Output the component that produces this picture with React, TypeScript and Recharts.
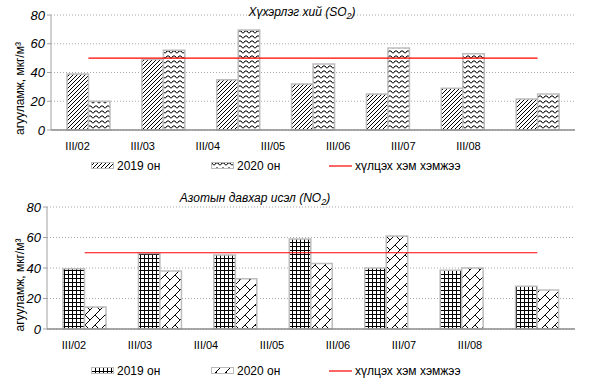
import React from 'react';
import { ComposedChart, Bar, Line, XAxis, YAxis, CartesianGrid, Legend } from 'recharts';

const categories = ['III/02', 'III/03', 'III/04', 'III/05', 'III/06', 'III/07', 'III/08'];
const so2_2019 = [39, 49, 35, 32, 25, 29, 21.5];
const so2_2020 = [20, 55.5, 69.5, 46, 57, 53, 25];
const no2_2019 = [39.5, 49.5, 48.5, 59, 40, 38.5, 28];
const no2_2020 = [14.5, 38, 33, 43, 61, 40, 25.5];
const limit = [50, 50, 50, 50, 50, 50, 50];
const yTicks = [0, 20, 40, 60, 80];
const seriesNames = ['2019 он', '2020 он', 'хүлцэх хэм хэмжээ'];
const titleSO2 = 'Хүхэрлэг хий (SO';
const titleNO2 = 'Азотын давхар исэл (NO';
const yLabel = 'агууламж, мкг/м³';

const so2Data = categories.map((c, i) => ({ cat: c, a: so2_2019[i], b: so2_2020[i], l: limit[i] }));
const no2Data = categories.map((c, i) => ({ cat: c, a: no2_2019[i], b: no2_2020[i], l: limit[i] }));

const FONT = '"Liberation Sans", Arial, sans-serif';

const Patterns = () => (
  <svg width={0} height={0} style={{ position: 'absolute' }}>
    <defs>
      <pattern id="pDiag" patternUnits="userSpaceOnUse" width={4} height={4}>
        <rect width={4} height={4} fill="#fff" />
        <path d="M-1,1 L1,-1 M0,4 L4,0 M3,5 L5,3" stroke="#000" strokeWidth={1} />
      </pattern>
      <pattern id="pWave" patternUnits="userSpaceOnUse" width={6} height={5}>
        <rect width={6} height={5} fill="#fff" />
        <path d="M0,1 L1,1 L2.5,3 L3.5,3 L5,1 L6,1" stroke="#000" strokeWidth={1} fill="none" />
      </pattern>
      <pattern id="pGrid" patternUnits="userSpaceOnUse" width={4} height={4}>
        <rect width={4} height={4} fill="#fff" />
        <rect x={0} y={0} width={4} height={1} fill="#000" />
        <rect x={0} y={0} width={1} height={4} fill="#000" />
      </pattern>
      <pattern id="pBrick" patternUnits="userSpaceOnUse" width={10} height={10}>
        <rect width={10} height={10} fill="#fff" />
        <path d="M0,10 L10,0 M-1,1 L1,-1 M9,11 L11,9 M5,5 L10,10" stroke="#000" strokeWidth={1} fill="none" />
      </pattern>
    </defs>
  </svg>
);

const makeLegend = (fillA: string, fillB: string) => (props: any) => {
  const payload = props.payload || [];
  const xs = [91, 211, 329];
  return (
    <div style={{ position: 'relative', width: 598, height: 16, fontFamily: FONT, fontSize: 12 }}>
      {payload.map((p: any, i: number) => {
        const isLine = p.type === 'line';
        const fill = i === 0 ? fillA : fillB;
        return (
          <div key={i} style={{ position: 'absolute', left: xs[i], top: 0, display: 'flex', alignItems: 'center', height: 16 }}>
            <svg width={24} height={8} style={{ display: 'block' }}>
              {isLine ? (
                <line x1={0} y1={4} x2={23} y2={4} stroke="#ff0000" strokeWidth={1.2} />
              ) : (
                <rect x={0.5} y={0.5} width={22} height={6} fill={`url(#${fill})`} stroke="#bbb" />
              )}
            </svg>
            <span style={{ marginLeft: 2, color: '#000', whiteSpace: 'nowrap' }}>{p.value}</span>
          </div>
        );
      })}
    </div>
  );
};

const YLabelContent = (dyShift: number) => (props: any) => {
  const vb = props.viewBox || {};
  const cx = 20;
  const cy = vb.y + vb.height / 2 + dyShift;
  return (
    <text
      x={cx}
      y={cy}
      transform={`rotate(-90, ${cx}, ${cy})`}
      textAnchor="middle"
      dominantBaseline="central"
      fontFamily={FONT}
      fontSize={12}
      fill="#000"
    >
      {yLabel}
    </text>
  );
};

type PanelProps = {
  data: any[];
  fillA: string;
  fillB: string;
  top: number;
  height: number;
  marginTop: number;
  marginBottom: number;
  left: number;
  right: number;
  lblPad: { left: number; right: number };
  legendTop: number;
  labelShift: number;
};

const Panel = (p: PanelProps) => (
  <div style={{ position: 'absolute', left: 0, top: p.top }}>
    <ComposedChart
      width={598}
      height={p.height}
      data={p.data}
      margin={{ top: p.marginTop, right: 598 - p.right, bottom: p.marginBottom, left: 0 }}
      barGap={0}
      style={{ fontFamily: FONT }}
    >
      <CartesianGrid vertical={false} stroke="#a8a8a8" strokeDasharray="1 2" />
      <XAxis xAxisId="main" dataKey="cat" hide />
      <XAxis
        xAxisId="lbl"
        dataKey="cat"
        padding={p.lblPad}
        axisLine={{ stroke: '#8c8c8c', strokeWidth: 1.5 }}
        tickLine={false}
        tickMargin={6}
        height={20}
        tick={{ fontSize: 11, fill: '#000', fontFamily: FONT }}
        interval={0}
      />
      <YAxis
        width={p.left}
        domain={[0, 80]}
        ticks={yTicks}
        axisLine={{ stroke: '#a0a0a0' }}
        tickLine={{ stroke: '#a0a0a0' }}
        tickSize={4}
        tick={{ fontSize: 13, fill: '#000', fontStyle: 'italic', fontFamily: FONT }}
        label={{ content: YLabelContent(p.labelShift) }}
      />
      <Bar xAxisId="main" dataKey="a" name={seriesNames[0]} fill={`url(#${p.fillA})`} stroke="#bdbdbd" strokeWidth={1.5} barSize={21.5} isAnimationActive={false} legendType="rect" />
      <Bar xAxisId="main" dataKey="b" name={seriesNames[1]} fill={`url(#${p.fillB})`} stroke="#bdbdbd" strokeWidth={1.5} barSize={21.5} isAnimationActive={false} legendType="rect" />
      <Line xAxisId="main" dataKey="l" name={seriesNames[2]} stroke="#ff0000" strokeWidth={1.2} dot={false} activeDot={false} isAnimationActive={false} legendType="line" />
      <Legend
        layout="horizontal"
        verticalAlign="middle"
        align="center"
        wrapperStyle={{ top: p.legendTop, left: 0, width: 598 }}
        content={makeLegend(p.fillA, p.fillB)}
      />
    </ComposedChart>
  </div>
);

const Title = ({ text, x, y }: { text: string; x: number; y: number }) => (
  <div
    style={{
      position: 'absolute',
      left: x,
      top: y,
      transform: 'translateX(-50%)',
      fontFamily: FONT,
      fontStyle: 'italic',
      fontSize: 12,
      whiteSpace: 'nowrap',
      color: '#000',
      lineHeight: '14px',
    }}
  >
    {text}
    <sub style={{ fontSize: 9 }}>2</sub>)
  </div>
);

export default function App() {
  return (
    <div style={{ position: 'absolute', left: 0, top: 0, width: 598, height: 387, background: '#fff', overflow: 'hidden' }}>
      <Patterns />
      <Panel
        data={so2Data}
        fillA="pDiag"
        fillB="pWave"
        top={0}
        height={190}
        marginTop={15}
        marginBottom={40}
        left={51}
        right={575}
        lblPad={{ left: -6, right: 74 }}
        legendTop={158}
        labelShift={16}
      />
      <Panel
        data={no2Data}
        fillA="pGrid"
        fillB="pBrick"
        top={190}
        height={197}
        marginTop={17}
        marginBottom={38}
        left={47}
        right={575}
        lblPad={{ left: -6, right: 72 }}
        legendTop={173}
        labelShift={17}
      />
      <Title text={titleSO2} x={302} y={5} />
      <Title text={titleNO2} x={255} y={191} />
    </div>
  );
}
